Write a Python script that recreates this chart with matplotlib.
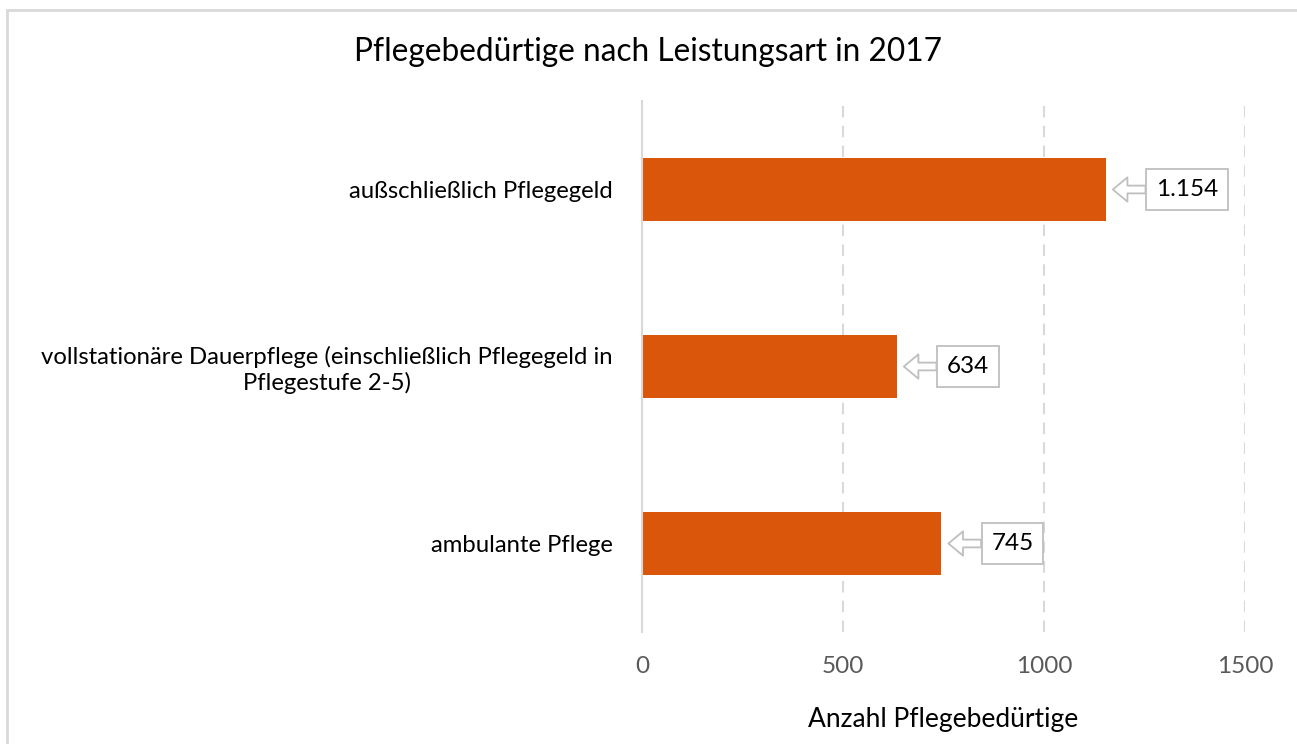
import matplotlib
matplotlib.use("Agg")
import matplotlib.pyplot as plt
from matplotlib.patches import Rectangle

plt.rcParams['font.family'] = ['Lato', 'DejaVu Sans']

categories = ["ambulante Pflege",
              "vollstationäre Dauerpflege (einschließlich Pflegegeld in\nPflegestufe 2-5)",
              "außschließlich Pflegegeld"]
values = [745, 634, 1154]
value_labels = ["745", "634", "1.154"]
xticks = [0, 500, 1000, 1500]
title = "Pflegebedürtige nach Leistungsart in 2017"
xlabel = "Anzahl Pflegebedürtige"

W, H = 1297, 744
fig = plt.figure(figsize=(W / 100, H / 100), dpi=100)
ax = fig.add_axes([642 / W, 1 - 632 / H, (1245 - 642) / W, (632 - 101) / H])

ypos = list(range(len(categories)))
ax.barh(ypos, values, height=0.355, color='#D9560A', zorder=3)

ax.set_xlim(0, 1500)
ax.set_ylim(-0.5, 2.5)
ax.set_yticks(ypos)
ax.set_yticklabels(categories, fontsize=17.2, color='black', multialignment='center')
ax.set_xticks(xticks)
ax.set_xticklabels([str(t) for t in xticks], fontsize=17.5, color='#595959')
ax.tick_params(axis='y', length=0, pad=21)
ax.tick_params(axis='x', length=0, pad=17)

for s in ['top', 'right', 'bottom']:
    ax.spines[s].set_visible(False)
ax.spines['left'].set_color('#d9d9d9')
ax.spines['left'].set_linewidth(1.5)
ax.spines['left'].set_zorder(4)

ax.xaxis.grid(True, color='#d9d9d9', linestyle=(0, (5.5, 4)), linewidth=1.5, zorder=0)
ax.set_axisbelow(True)
ax.get_xgridlines()[0].set_visible(False)

ax.set_xlabel(xlabel, fontsize=19, labelpad=22)

for y, v, lab in zip(ypos, values, value_labels):
    ax.annotate(lab, xy=(v, y), xycoords='data',
                xytext=(36, 0), textcoords='offset points',
                ha='left', va='center', fontsize=17.5, color='black',
                bbox=dict(boxstyle='square,pad=0.4', fc='white', ec='#bfbfbf', lw=1.3),
                arrowprops=dict(arrowstyle='simple,head_length=0.6,head_width=1.0,tail_width=0.32',
                                fc='white', ec='#bfbfbf', lw=1.3, shrinkA=0, shrinkB=5),
                zorder=5)

fig.text(0.5, 1 - 52 / H, title, ha='center', va='center', fontsize=22.8, color='black')

fig.patches.append(Rectangle((7 / W, -0.1), 1.2, (1 - 10 / H) + 0.1, transform=fig.transFigure,
                             fill=False, ec='#d9d9d9', lw=2, zorder=0))

fig.savefig('out.png', dpi=100)
